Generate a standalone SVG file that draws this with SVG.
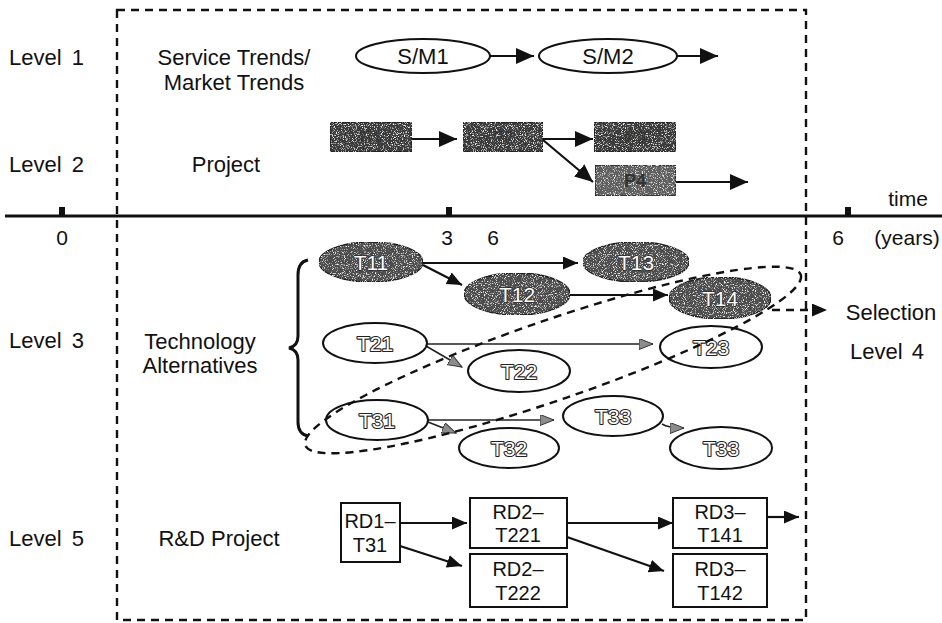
<svg xmlns="http://www.w3.org/2000/svg" width="942" height="623" viewBox="0 0 942 623">
  <style>
    text { font-family: "Liberation Sans", Arial, sans-serif; fill: #111; }
    .lbl { font-size: 22px; }
    .ax { font-size: 21px; }
    .node { font-size: 22px; text-anchor: middle; }
    .tk { font-size: 21px; text-anchor: middle; fill: #fff; stroke: #222; stroke-width: 2.2; paint-order: stroke; stroke-linejoin: round; }
    .tkd { font-size: 21px; text-anchor: middle; fill: #fff; stroke: #2a2a2a; stroke-width: 1.6; paint-order: stroke; stroke-linejoin: round; }
    .pk { font-size: 18px; font-weight: bold; text-anchor: middle; fill: #333; }
    .rd { font-size: 20px; text-anchor: middle; }
    .wl { fill: #fff; stroke: #111; stroke-width: 2; }
    .dk { fill: #4e4e4e; stroke: #222; stroke-width: 1.5; }
    .bx { fill: #fff; stroke: #111; stroke-width: 2; }
    .pj { fill: #3a3a3a; stroke: #1a1a1a; stroke-width: 1.2; }
    .ln { fill: none; stroke: #111; stroke-width: 2.2; }
    .thin { fill: none; stroke: #222; stroke-width: 1.6; }
    .dash { fill: none; stroke: #111; stroke-width: 2.4; stroke-dasharray: 8 6; }
  </style>
  <defs>
    <filter id="grain" x="0" y="0" width="100%" height="100%">
      <feTurbulence type="fractalNoise" baseFrequency="0.9" numOctaves="2" seed="7" result="n"/>
      <feColorMatrix in="n" type="matrix" values="0 0 0 0 1  0 0 0 0 1  0 0 0 0 1  4 0 0 0 -2.2" result="sp"/>
      <feComposite in="sp" in2="SourceGraphic" operator="in" result="spk"/>
      <feMerge><feMergeNode in="SourceGraphic"/><feMergeNode in="spk"/></feMerge>
    </filter>
    <marker id="ah" markerUnits="userSpaceOnUse" markerWidth="20" markerHeight="18" refX="18" refY="8" orient="auto">
      <path d="M0,0 L18,8 L0,16 z" fill="#111"/>
    </marker>
    <marker id="ahs" markerUnits="userSpaceOnUse" markerWidth="16" markerHeight="14" refX="15" refY="6.5" orient="auto">
      <path d="M0,0 L15,6.5 L0,13 z" fill="#111"/>
    </marker>
    <marker id="ahg" markerUnits="userSpaceOnUse" markerWidth="16" markerHeight="14" refX="14" refY="5.5" orient="auto">
      <path d="M0,0 L14,5.5 L0,11 z" fill="#8c8c8c" stroke="#333" stroke-width="1"/>
    </marker>
  </defs>

  <!-- planning frame -->
  <rect id="frame" x="117" y="10" width="689" height="610" class="dash" stroke-width="2.6"/>

  <!-- time axis -->
  <g id="axis">
    <line x1="5" y1="216" x2="942" y2="216" stroke="#111" stroke-width="3"/>
    <rect x="59" y="207" width="6" height="9" fill="#111"/>
    <rect x="446" y="207" width="6" height="9" fill="#111"/>
    <rect x="845" y="207" width="6" height="9" fill="#111"/>
    <text class="ax" x="62" y="245" text-anchor="middle">0</text>
    <text class="ax" x="447" y="245" text-anchor="middle">3</text>
    <text class="ax" x="493" y="245" text-anchor="middle">6</text>
    <text class="ax" x="838" y="245" text-anchor="middle">6</text>
    <text class="ax" x="907" y="245" text-anchor="middle">(years)</text>
    <text class="ax" x="908" y="206" text-anchor="middle">time</text>
  </g>

  <!-- level captions -->
  <g id="levels">
    <text class="lbl" x="9" y="65" word-spacing="4">Level 1</text>
    <text class="lbl" x="9" y="172" word-spacing="4">Level 2</text>
    <text class="lbl" x="9" y="348" word-spacing="4">Level 3</text>
    <text class="lbl" x="9" y="546" word-spacing="4">Level 5</text>
    <text class="lbl" x="234" y="65" text-anchor="middle">Service Trends/</text>
    <text class="lbl" x="234" y="90" text-anchor="middle">Market Trends</text>
    <text class="lbl" x="226" y="172" text-anchor="middle">Project</text>
    <text class="lbl" x="200" y="349" text-anchor="middle">Technology</text>
    <text class="lbl" x="200" y="373" text-anchor="middle">Alternatives</text>
    <text class="lbl" x="219" y="546" text-anchor="middle">R&amp;D Project</text>
    <text class="lbl" x="891" y="320" text-anchor="middle">Selection</text>
    <text class="lbl" x="887" y="359" text-anchor="middle" word-spacing="3">Level 4</text>
  </g>

  <!-- brace grouping the technology alternatives -->
  <path id="brace" d="M308,260 Q298,262 298,275 L298,336 Q298,346 289,348 Q298,350 298,360 L298,422 Q298,434 308,436" fill="none" stroke="#111" stroke-width="3"/>

  <!-- connectors -->
  <g id="connectors">
    <line class="ln" x1="490" y1="56" x2="534" y2="56" marker-end="url(#ah)"/>
    <line class="ln" x1="677" y1="56" x2="718" y2="56" marker-end="url(#ah)"/>

    <line class="ln" x1="412" y1="139" x2="457" y2="139" marker-end="url(#ah)"/>
    <line class="ln" x1="543" y1="139" x2="593" y2="139" marker-end="url(#ah)"/>
    <line class="ln" x1="543" y1="140" x2="593" y2="182" marker-end="url(#ah)"/>
    <line class="ln" x1="676" y1="182" x2="748" y2="182" marker-end="url(#ah)"/>

    <line class="ln" x1="423" y1="263" x2="578" y2="263" marker-end="url(#ahs)"/>
    <line class="ln" x1="423" y1="265" x2="462" y2="285" marker-end="url(#ahs)"/>
    <line class="ln" x1="570" y1="295" x2="668" y2="295" marker-end="url(#ahs)"/>

    <line class="thin" x1="426" y1="344" x2="653" y2="344" marker-end="url(#ahg)"/>
    <line class="thin" x1="426" y1="346" x2="462" y2="367" marker-end="url(#ahg)"/>
    <line class="thin" x1="428" y1="420" x2="554" y2="420" marker-end="url(#ahg)"/>
    <line class="thin" x1="428" y1="422" x2="456" y2="433" marker-end="url(#ahg)"/>
    <path class="thin" d="M662,424 Q668,428 684,428" marker-end="url(#ahg)"/>

    <line class="ln" x1="400" y1="523" x2="467" y2="523" marker-end="url(#ahs)"/>
    <line class="ln" x1="400" y1="546" x2="462" y2="566" marker-end="url(#ahs)"/>
    <line class="ln" x1="567" y1="523" x2="673" y2="523" marker-end="url(#ahs)"/>
    <line class="ln" x1="567" y1="537" x2="664" y2="571" marker-end="url(#ahs)"/>
    <line class="ln" x1="767" y1="517" x2="799" y2="517" marker-end="url(#ahs)"/>
  </g>

  <!-- Level 1: service / market trends -->
  <g id="sm1"><ellipse class="wl" cx="423" cy="56" rx="67" ry="17"/><text class="node" x="423" y="64">S/M1</text></g>
  <g id="sm2"><ellipse class="wl" cx="608" cy="56" rx="69" ry="17"/><text class="node" x="608" y="64">S/M2</text></g>

  <!-- Level 2: projects -->
  <g id="p1"><rect class="pj" x="330" y="122" width="82" height="30" filter="url(#grain)"/><text class="pk" x="371" y="144" fill-opacity="0.7">P1</text></g>
  <g id="p2"><rect class="pj" x="463" y="122" width="80" height="30" filter="url(#grain)"/><text class="pk" x="503" y="144" fill-opacity="0.7">P2</text></g>
  <g id="p3"><rect class="pj" x="594" y="122" width="82" height="30" filter="url(#grain)"/><text class="pk" x="635" y="144" fill-opacity="0.7">P3</text></g>
  <g id="p4"><rect class="pj" x="595" y="165" width="81" height="31" style="fill:#5e5e5e" filter="url(#grain)"/><text class="pk" x="635" y="187">P4</text></g>

  <!-- Level 3: technology alternatives -->
  <g id="t11"><ellipse class="dk" cx="371" cy="262" rx="52" ry="20" filter="url(#grain)"/><text class="tkd" x="371" y="270">T11</text></g>
  <g id="t12"><ellipse class="dk" cx="517" cy="294" rx="53" ry="21" filter="url(#grain)"/><text class="tkd" x="517" y="302">T12</text></g>
  <g id="t13"><ellipse class="dk" cx="636" cy="262" rx="53" ry="20" filter="url(#grain)"/><text class="tkd" x="636" y="270">T13</text></g>
  <g id="t14"><ellipse class="dk" cx="720" cy="298" rx="51" ry="21" filter="url(#grain)"/><text class="tkd" x="720" y="306">T14</text></g>
  <g id="t21"><ellipse class="wl" cx="375" cy="343" rx="52" ry="20"/><text class="tk" x="375" y="351">T21</text></g>
  <g id="t22"><ellipse class="wl" cx="519" cy="371" rx="51" ry="21"/><text class="tk" x="519" y="379">T22</text></g>
  <g id="t23"><ellipse class="wl" cx="711" cy="347" rx="51" ry="21"/><text class="tk" x="711" y="355">T23</text></g>
  <g id="t31"><ellipse class="wl" cx="377" cy="420" rx="51" ry="20"/><text class="tk" x="377" y="428">T31</text></g>
  <g id="t32"><ellipse class="wl" cx="509" cy="448" rx="50" ry="20"/><text class="tk" x="509" y="456">T32</text></g>
  <g id="t33a"><ellipse class="wl" cx="613" cy="416" rx="50" ry="20"/><text class="tk" x="613" y="424">T33</text></g>
  <g id="t33b"><ellipse class="wl" cx="721" cy="448" rx="51" ry="21"/><text class="tk" x="721" y="456">T33</text></g>

  <!-- Level 4: selected technology path -->
  <g id="selection">
    <ellipse class="dash" cx="553" cy="360" rx="262" ry="40" transform="rotate(-19 553 360)" stroke-width="2"/>
    <line class="dash" x1="772" y1="310" x2="827" y2="310" marker-end="url(#ahs)" stroke-width="2"/>
  </g>

  <!-- Level 5: R&D projects -->
  <g id="rd1"><rect class="bx" x="341" y="503" width="59" height="59"/><text class="rd" x="370" y="528">RD1–</text><text class="rd" x="370" y="552">T31</text></g>
  <g id="rd2a"><rect class="bx" x="470" y="498" width="97" height="50"/><text class="rd" x="518" y="519">RD2–</text><text class="rd" x="518" y="542">T221</text></g>
  <g id="rd2b"><rect class="bx" x="470" y="554" width="97" height="53"/><text class="rd" x="518" y="576">RD2–</text><text class="rd" x="518" y="600">T222</text></g>
  <g id="rd3a"><rect class="bx" x="673" y="498" width="94" height="50"/><text class="rd" x="720" y="519">RD3–</text><text class="rd" x="720" y="542">T141</text></g>
  <g id="rd3b"><rect class="bx" x="673" y="554" width="94" height="53"/><text class="rd" x="720" y="576">RD3–</text><text class="rd" x="720" y="600">T142</text></g>
</svg>
